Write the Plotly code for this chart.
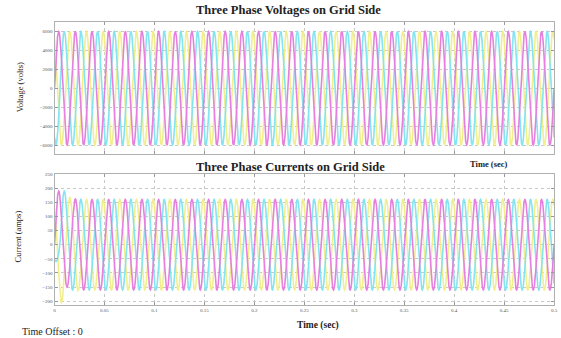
import numpy as np
import plotly.graph_objects as go

# ---- data ----
freq_hz = 60.0                      # 3 cycles per 0.05 s grid interval
t_end = 0.5
phase_deg = {"yellow": 120.0, "magenta": 0.0, "cyan": 240.0}

# per-half-cycle peak voltages (volts), 61 half cycles per phase
volt_peaks = {
    "yellow":  [6000] * 61,
    "magenta": [6000] * 61,
    "cyan":    [6000] * 61,
}
# per-half-cycle peak currents (amps); first half cycles show start-up transient
curr_peaks = {
    "yellow":  [150, 205, 168, 162] + [160] * 57,
    "magenta": [190, 150, 162, 160] + [160] * 57,
    "cyan":    [120, 60, 190, 160] + [160] * 57,
}

x_ticks = [0, 0.05, 0.1, 0.15, 0.2, 0.25, 0.3, 0.35, 0.4, 0.45, 0.5]
x_tick_text = ["0", "0.05", "0.1", "0.15", "0.2", "0.25", "0.3", "0.35", "0.4", "0.45", "0.5"]
v_ticks = [-6000, -4000, -2000, 0, 2000, 4000, 6000]
i_ticks = [-200, -150, -100, -50, 0, 50, 100, 150, 200, 250]

colors = {"yellow": "#f1ee8e", "magenta": "#e680de", "cyan": "#84e4ef"}
order = ["yellow", "cyan", "magenta"]

t = np.linspace(0, t_end, 6001)


def wave(peaks, ph):
    theta = 2 * np.pi * freq_hz * t + np.deg2rad(ph)
    half = np.minimum((theta / np.pi).astype(int), len(peaks) - 1)
    amp = np.asarray(peaks, dtype=float)[half]
    return amp * np.sin(theta)


fig = go.Figure()
for name in order:
    fig.add_trace(go.Scatter(x=t, y=wave(volt_peaks[name], phase_deg[name]),
                             mode="lines", line=dict(color=colors[name], width=1.6),
                             xaxis="x", yaxis="y", showlegend=False))
for name in order:
    fig.add_trace(go.Scatter(x=t, y=wave(curr_peaks[name], phase_deg[name]),
                             mode="lines", line=dict(color=colors[name], width=1.6),
                             xaxis="x2", yaxis="y2", showlegend=False))

tickfont = dict(family="Liberation Serif", size=5, color="#555")
common_x = dict(range=[0, 0.5], tickvals=x_ticks, ticktext=x_tick_text,
                showgrid=True, gridcolor="#c8c8c8", griddash="dot", gridwidth=1,
                showline=True, linecolor="#b0b0b0", linewidth=1, mirror="ticks",
                ticks="inside", ticklen=3, tickcolor="#999", zeroline=False,
                tickfont=tickfont, ticklabeloverflow="allow")
common_y = dict(showgrid=True, gridcolor="#c8c8c8", griddash="dot", gridwidth=1,
                showline=True, linecolor="#b0b0b0", linewidth=1, mirror="ticks",
                ticks="inside", ticklen=3, tickcolor="#999", zeroline=False,
                tickfont=tickfont)

fig.update_layout(
    width=561, height=338,
    margin=dict(l=0, r=0, t=0, b=0),
    paper_bgcolor="white", plot_bgcolor="white",
    xaxis=dict(domain=[0.0963, 0.9947], anchor="y", showticklabels=False, **common_x),
    yaxis=dict(domain=[0.549, 0.939], anchor="x", range=[-6900, 6950],
               tickvals=v_ticks, **common_y),
    xaxis2=dict(domain=[0.0963, 0.9947], anchor="y2", **common_x),
    yaxis2=dict(domain=[0.0976, 0.488], anchor="x2", range=[-214, 250],
                tickvals=i_ticks, **common_y),
)

serif = "Liberation Serif"
ann = [
    dict(text="<b>Three Phase Voltages on Grid Side</b>", x=290, y=8, size=12.5),
    dict(text="<b>Three Phase Currents on Grid Side</b>", x=292, y=166, size=12.5),
    dict(text="<b>Time (sec)</b>", x=492, y=163, size=8.5),
    dict(text="<b>Time (sec)</b>", x=320, y=325, size=9.5),
    dict(text="Time Offset : 0", x=52, y=331, size=10),
]
for a in ann:
    fig.add_annotation(text=a["text"], x=a["x"] / 561, y=1 - a["y"] / 338,
                       xref="paper", yref="paper", showarrow=False,
                       xanchor="center", yanchor="middle",
                       font=dict(family=serif, size=a["size"], color="#222"))
fig.add_annotation(text="Voltage (volts)", x=20 / 561, y=1 - 86 / 338,
                   xref="paper", yref="paper", showarrow=False, textangle=-90,
                   xanchor="center", yanchor="middle",
                   font=dict(family=serif, size=8.5, color="#222"))
fig.add_annotation(text="Current (amps)", x=17 / 561, y=1 - 236 / 338,
                   xref="paper", yref="paper", showarrow=False, textangle=-90,
                   xanchor="center", yanchor="middle",
                   font=dict(family=serif, size=8.5, color="#222"))

fig.write_html("out.html")
